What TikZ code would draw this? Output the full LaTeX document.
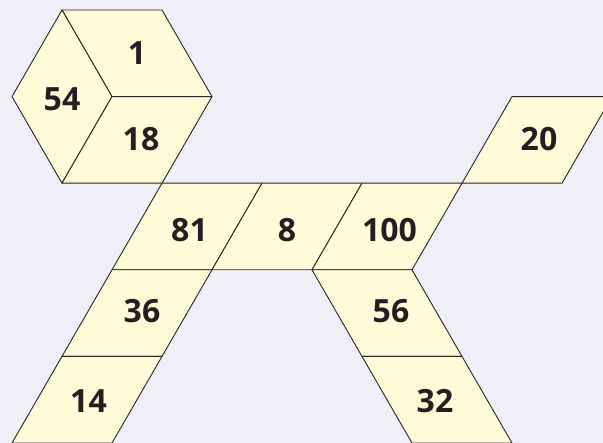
\documentclass[tikz,border=0pt]{standalone}
\usepackage{fontspec}
\setmainfont{Open Sans}
\definecolor{pagebg}{RGB}{240,238,247}
\definecolor{tilefill}{RGB}{255,251,216}
\definecolor{digitink}{RGB}{35,31,32}

\begin{document}
\begin{tikzpicture}[x=1pt,y=-1pt,tile/.style={draw=black!85,fill=tilefill,line width=.9pt,line join=round},num/.style={font=\fontsize{32}{34}\selectfont\bfseries,text=digitink,inner sep=0pt}]
\fill[pagebg] (0,0) rectangle (603,443);
\useasboundingbox (0,0) rectangle (603,443);
\clip (0,0) rectangle (603,443);
% head
\draw[tile] (62,10) -- (162,10) -- (212,96.6) -- (112,96.6) -- cycle;
\draw[tile] (62,10) -- (112,96.6) -- (62,183.2) -- (12,96.6) -- cycle;
\draw[tile] (112,96.6) -- (212,96.6) -- (162,183.2) -- (62,183.2) -- cycle;
\node[num] (one) at (137,53) {1};
\node[num] (fiftyfour) at (62,99) {54};
\node[num] (eighteen) at (141,139) {18};
% body and tail
\draw[tile] (162,183.2) -- (262,183.2) -- (212,269.8) -- (112,269.8) -- cycle;
\draw[tile] (262,183.2) -- (362,183.2) -- (312,269.8) -- (212,269.8) -- cycle;
\draw[tile] (362,183.2) -- (462,183.2) -- (412,269.8) -- (312,269.8) -- cycle;
\draw[tile] (512,96.6) -- (612,96.6) -- (562,183.2) -- (462,183.2) -- cycle;
\node[num] (eightyone) at (189.5,230) {81};
\node[num] (eight) at (287,230) {8};
\node[num] (hundred) at (389.5,230) {100};
\node[num] (twenty) at (539,139) {20};
% legs
\draw[tile] (112,269.8) -- (212,269.8) -- (162,356.4) -- (62,356.4) -- cycle;
\draw[tile] (62,356.4) -- (162,356.4) -- (112,443) -- (12,443) -- cycle;
\draw[tile] (312,269.8) -- (412,269.8) -- (462,356.4) -- (362,356.4) -- cycle;
\draw[tile] (362,356.4) -- (462,356.4) -- (512,443) -- (412,443) -- cycle;
\node[num] (thirtysix) at (142,311.5) {36};
\node[num] (fourteen) at (88.5,401) {14};
\node[num] (fiftysix) at (391,311.5) {56};
\node[num] (thirtytwo) at (435,401) {32};
\end{tikzpicture}
\end{document}
